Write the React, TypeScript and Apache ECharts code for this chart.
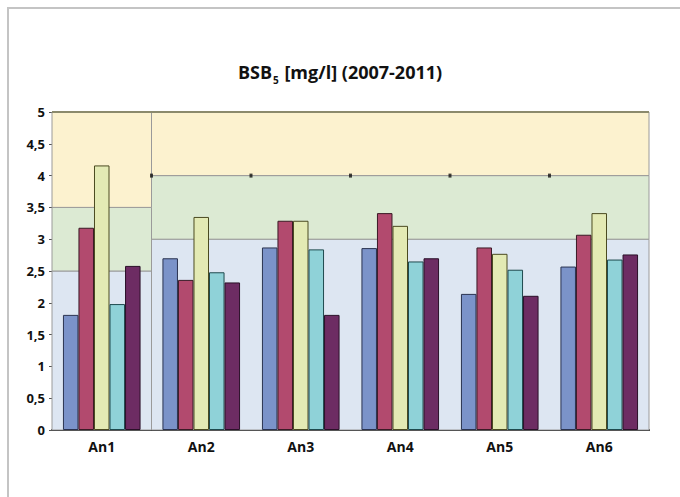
import React, { useEffect, useRef } from "react";
import * as echarts from "echarts";

const categories = ["An1", "An2", "An3", "An4", "An5", "An6"];
const series1 = [1.81, 2.7, 2.87, 2.86, 2.14, 2.57];
const series2 = [3.18, 2.36, 3.29, 3.41, 2.87, 3.07];
const series3 = [4.16, 3.35, 3.29, 3.21, 2.77, 3.41];
const series4 = [1.98, 2.48, 2.84, 2.65, 2.52, 2.68];
const series5 = [2.58, 2.32, 1.81, 2.7, 2.11, 2.76];
const seriesNames = ["S1", "S2", "S3", "S4", "S5"];
const barColors = ["#7b93c9", "#b24a6e", "#e3eab4", "#8fd2d8", "#6d2c63"];
const barBorders = ["#2a3350", "#3a1a25", "#4a4a20", "#1e4a4e", "#2a1028"];

// quality class bands: [xFrom, xTo, yFrom, yTo]
const bandsGood = [
  [0, 1, 0, 2.5],
  [1, 6, 0, 3],
];
const bandsMid = [
  [0, 1, 2.5, 3.5],
  [1, 6, 3, 4],
];
const bandsBad = [
  [0, 1, 3.5, 5],
  [1, 6, 4, 5],
];
const limitMarkersX = [1, 2, 3, 4, 5];
const limitMarkersY = [4, 4, 4, 4, 4];

const FONT = "'Open Sans', 'Liberation Sans', sans-serif";

export default function App() {
  const ref = useRef<HTMLDivElement>(null);
  useEffect(() => {
    if (!ref.current) return;
    const chart = echarts.init(ref.current, null, { renderer: "svg" });
    const toArea = (b: number[][], color: string) =>
      b.map((r) => [
        { xAxis: r[0], yAxis: r[2], itemStyle: { color, borderColor: "#9a9a9a", borderWidth: 1 } },
        { xAxis: r[1], yAxis: r[3] },
      ]);
    const data = [series1, series2, series3, series4, series5];
    chart.setOption({
      animation: false,
      title: {
        text: "{b|BSB}{s|5}{b| [mg/l] (2007-2011)}",
        left: "center",
        top: 58,
        textStyle: {
          rich: {
            b: { fontFamily: FONT, fontWeight: "bold", fontSize: 18, lineHeight: 22, color: "#111", verticalAlign: "top" },
            s: { fontFamily: FONT, fontWeight: "bold", fontSize: 10, lineHeight: 22, color: "#111", verticalAlign: "bottom", padding: [14, 1, 0, 1] },
          },
        },
      },
      graphic: [
        {
          type: "rect",
          shape: { x: 8, y: 8, width: 720, height: 600 },
          style: { fill: "none", stroke: "#c4c4c4", lineWidth: 2 },
          z: -1,
        },
      ],
      grid: { left: 52, right: 31, top: 112, bottom: 67 },
      xAxis: [
        {
          type: "category",
          data: categories,
          axisLine: { lineStyle: { color: "#111", width: 2 } },
          axisTick: { show: false },
          axisLabel: { fontFamily: FONT, fontWeight: "bold", fontSize: 14, color: "#111", margin: 9 },
        },
        {
          type: "value",
          min: 0,
          max: 6,
          show: false,
        },
      ],
      yAxis: {
        type: "value",
        min: 0,
        max: 5,
        interval: 0.5,
        axisLine: { show: true, lineStyle: { color: "#9a9a9a", width: 1 } },
        axisTick: { show: true, length: 3, lineStyle: { color: "#555" } },
        splitLine: { show: false },
        axisLabel: {
          fontFamily: FONT,
          fontWeight: "bold",
          fontSize: 13,
          color: "#111",
          margin: 7,
          formatter: (v: number) => String(v).replace(".", ","),
        },
      },
      series: [
        {
          type: "line",
          xAxisIndex: 1,
          data: [],
          silent: true,
          markArea: {
            silent: true,
            data: [
              ...toArea(bandsGood, "#dde6f2"),
              ...toArea(bandsMid, "#dcead3"),
              ...toArea(bandsBad, "#fcf2cf"),
            ],
          },
          markLine: {
            silent: true,
            symbol: "none",
            label: { show: false },
            lineStyle: { color: "#8b8a6c", width: 2, type: "solid" },
            data: [[{ xAxis: 0, yAxis: 5 }, { xAxis: 6, yAxis: 5 }]],
          },
        },
        {
          type: "scatter",
          xAxisIndex: 1,
          symbol: "rect",
          symbolSize: [3, 4],
          itemStyle: { color: "#111" },
          z: 5,
          data: limitMarkersX.map((x, i) => [x, limitMarkersY[i]]),
        },
        ...data.map((d, i) => ({
          type: "bar",
          name: seriesNames[i],
          xAxisIndex: 0,
          data: d,
          barGap: "0%",
          barCategoryGap: "22%",
          z: 3,
          itemStyle: { color: barColors[i], borderColor: barBorders[i], borderWidth: 1 },
        })),
      ],
    });
    return () => chart.dispose();
  }, []);
  return <div ref={ref} style={{ width: 680, height: 497, position: "absolute", left: 0, top: 0 }} />;
}
